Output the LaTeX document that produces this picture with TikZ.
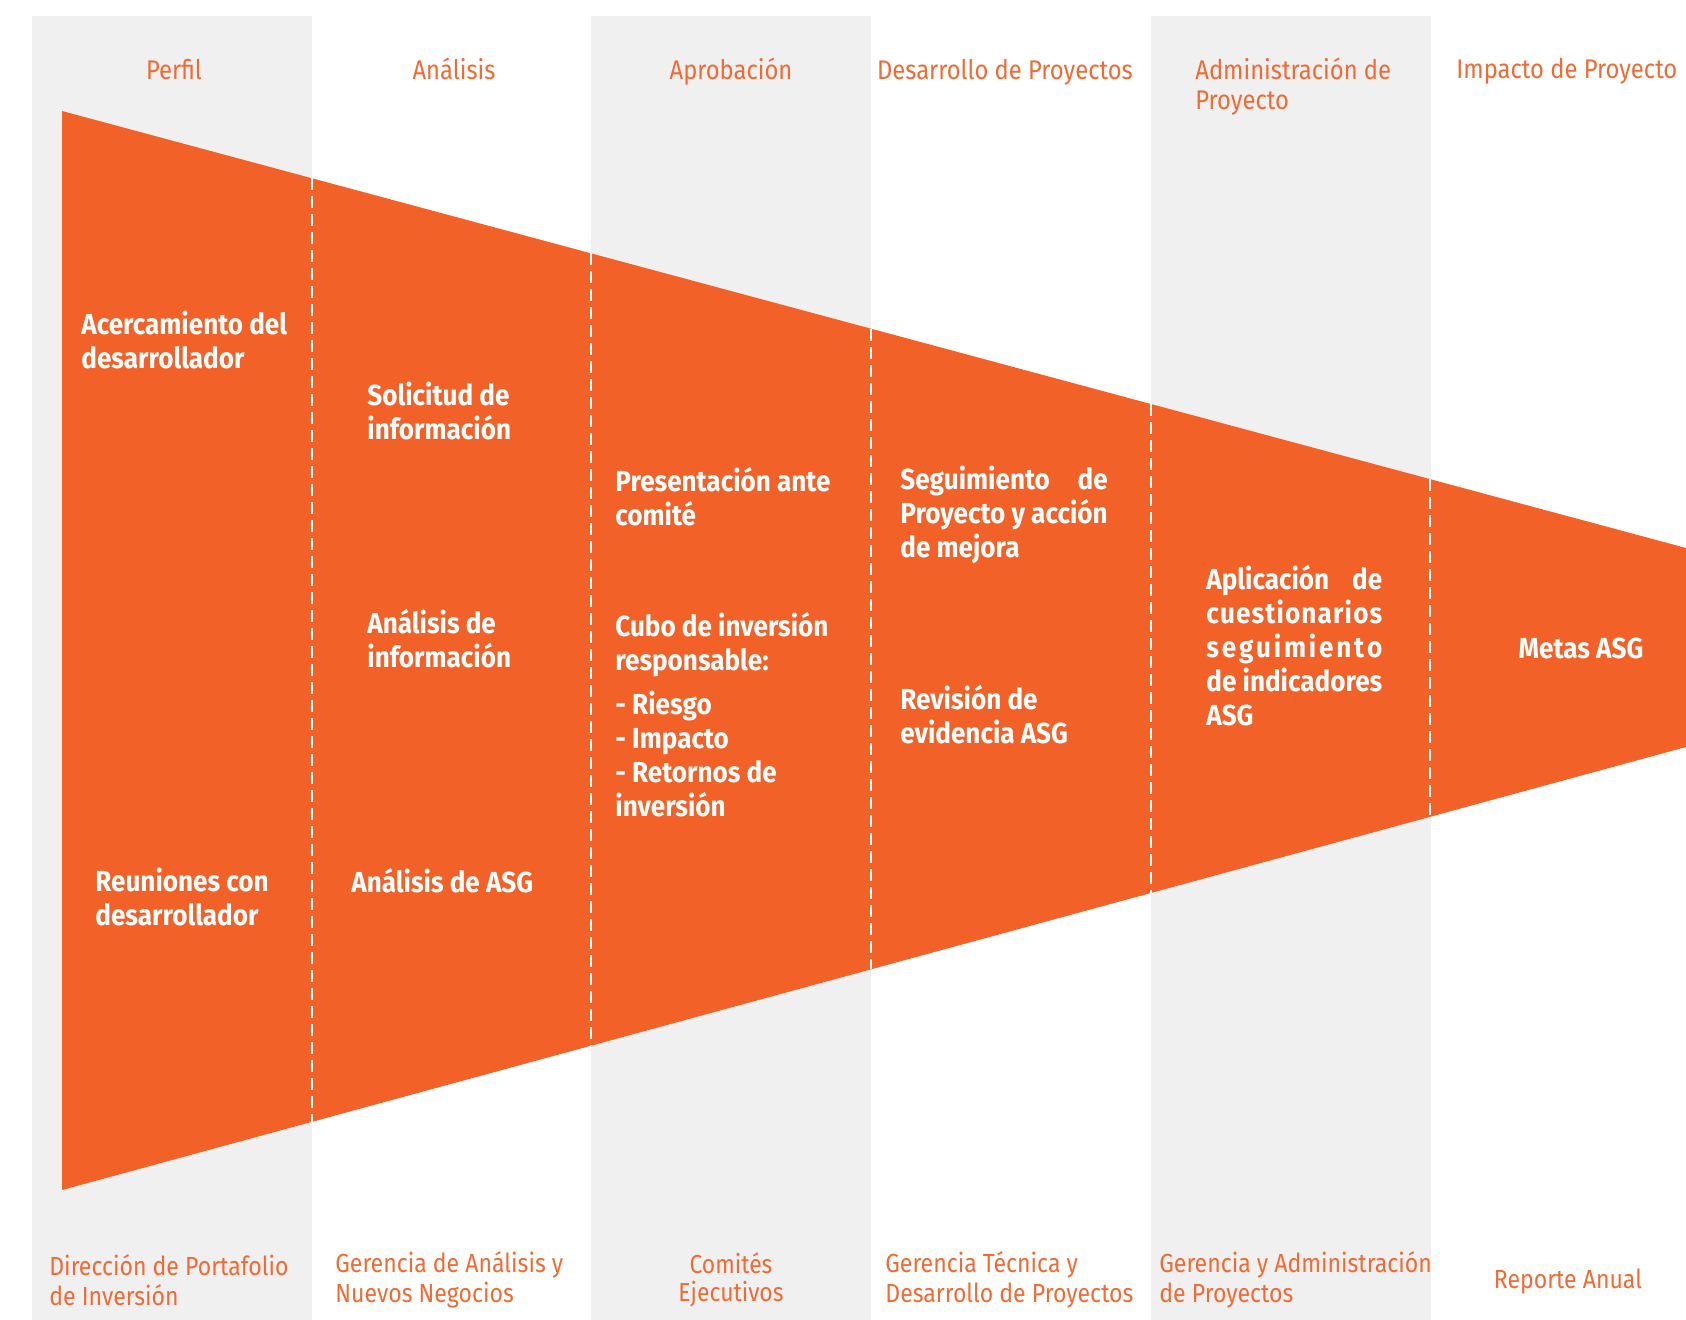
\documentclass[tikz,border=0pt]{standalone}
\usepackage{fontspec}
\setmainfont{Fira Sans}[FakeStretch=0.88]
\newfontfamily\bodyfam{Fira Sans}[FakeStretch=0.9]
\usetikzlibrary{calc}
\definecolor{org}{HTML}{F16128}
\definecolor{orgtxt}{HTML}{F26A33}
\definecolor{band}{HTML}{F0F0F0}
\newlength\wA
\newcommand\jline[2]{\settowidth{\wA}{#1}\makebox[\wA][s]{#2}}
\tikzset{
 hdr/.style={text=orgtxt, font=\fontsize{13.5}{15}\selectfont, inner sep=0pt},
 hdrb/.style={hdr, anchor=base},
 hdrl/.style={hdr, align=left, anchor=west},
 ftr/.style={text=orgtxt, font=\fontsize{13.1}{15}\selectfont, inner sep=0pt, align=left, anchor=west},
 body/.style={text=white, font=\bodyfam\bfseries\fontsize{14.5}{17}\selectfont, inner sep=0pt, align=left, anchor=west},
 sepline/.style={white, dash pattern=on 6pt off 3pt, line width=0.9pt},
 bandbox/.style={fill=band, draw=none},
}
\begin{document}
\begin{tikzpicture}[x=0.5pt,y=-0.5pt]
\useasboundingbox (0,0) rectangle (1686,1320);
% background columns
\foreach \a in {32,591,1151} \fill[bandbox] (\a,16) rectangle ++(280,1304);
% funnel
\coordinate (tl) at (62,111);
\coordinate (tr) at (1686,548);
\coordinate (br) at (1686,747);
\coordinate (bl) at (62,1190);
\fill[org] (tl) -- (tr) -- (br) -- (bl) -- cycle;
\foreach \x [count=\i] in {312,591,871,1151,1430} {
  \coordinate (t\i) at ($(tl)!{(\x-62)/1624}!(tr)$);
  \coordinate (b\i) at ($(bl)!{(\x-62)/1624}!(br)$);
  \draw[sepline] (t\i) -- (b\i);
}
% headers
\node[hdrb] (h1) at (174,80) {Perfil};
\node[hdrb] (h2) at (454,80) {Análisis};
\node[hdrb] (h3) at (731,80) {Aprobación};
\node[hdrb] (h4) at (1005,80) {Desarrollo de Proyectos};
\node[hdrl] (h5) at (1195,87) {Administración de\\Proyecto};
\node[hdrb, anchor=base west] (h6) at (1456,79) {Impacto de Proyecto};
% footers
\node[ftr] (f1) at (49,1280) {Dirección de Portafolio\\de Inversión};
\node[ftr] (f2) at (335,1280) {Gerencia de Análisis y\\Nuevos Negocios};
\node[ftr, align=center, anchor=center, font=\fontsize{13}{13.7}\selectfont] (f3) at (731,1280) {Comités\\Ejecutivos};
\node[ftr] (f4) at (885,1280) {Gerencia Técnica y\\Desarrollo de Proyectos};
\node[ftr] (f5) at (1159,1280) {Gerencia y Administración\\de Proyectos};
\node[ftr, anchor=base] (f6) at (1568,1288) {Reporte Anual};
% body
\node[body] (n1) at (81,340) {Acercamiento del\\desarrollador};
\node[body] (n2) at (95,897) {Reuniones con\\desarrollador};
\node[body] (n3) at (367,410.5) {Solicitud de\\información};
\node[body] (n4) at (367,638.5) {Análisis de\\información};
\node[body] (n5) at (351,881) {Análisis de ASG};
\node[body] (n6) at (615,496.5) {Presentación ante\\comité};
\node[body] (n7) at (615,645) {Cubo de inversión\\responsable:};
\node[body] (n8) at (615,753.5) {- Riesgo\\- Impacto\\- Retornos de\\inversión};
\node[body] (n9) at (900,514.5) {\jline{Proyecto y acción}{Seguimiento\hfill de}\\Proyecto y acción\\de mejora};
\node[body] (n10) at (900,714.5) {Revisión de\\evidencia ASG};
\node[body] (n11) at (1206,646) {\jline{de indicadores}{Aplicación\hfill de}\\\jline{de indicadores}{c\hfill u\hfill e\hfill s\hfill t\hfill i\hfill o\hfill n\hfill a\hfill r\hfill i\hfill o\hfill s}\\\jline{de indicadores}{s\hfill e\hfill g\hfill u\hfill i\hfill m\hfill i\hfill e\hfill n\hfill t\hfill o}\\de indicadores\\ASG};
\node[body, anchor=center] (n12) at (1581,648) {Metas ASG};
\end{tikzpicture}
\end{document}
